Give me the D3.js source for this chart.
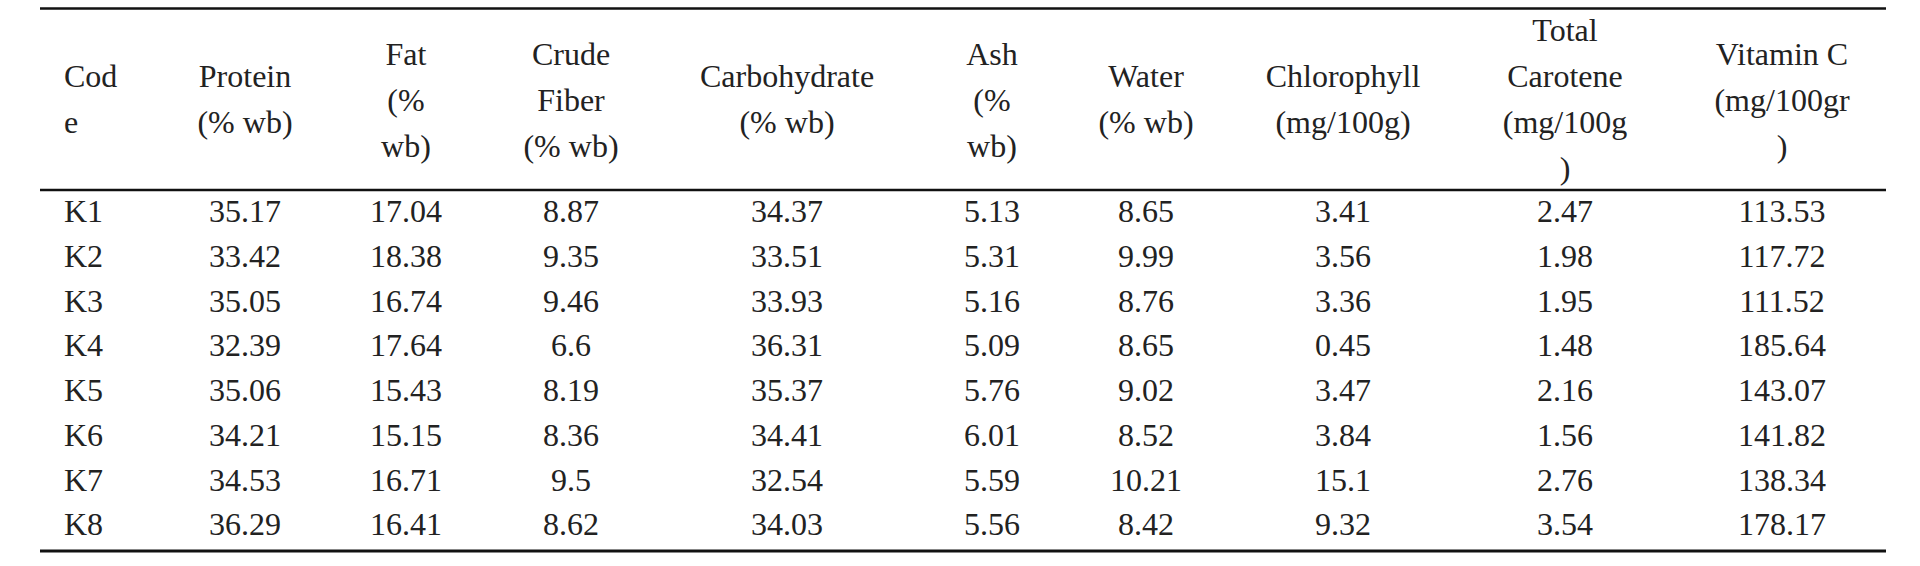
<!DOCTYPE html>
<html><head><meta charset="utf-8">
<script src="https://cdn.jsdelivr.net/npm/d3@7"></script>
<style>body{margin:0;background:#fff}</style>
</head><body><svg id="c" width="1920" height="566"></svg>
<script>
const codes = ["K1","K2","K3","K4","K5","K6","K7","K8"];
const headers = [
  ["Cod","e"],["Protein","(% wb)"],["Fat","(%","wb)"],["Crude","Fiber","(% wb)"],
  ["Carbohydrate","(% wb)"],["Ash","(%","wb)"],["Water","(% wb)"],["Chlorophyll","(mg/100g)"],
  ["Total","Carotene","(mg/100g",")"],["Vitamin C","(mg/100gr",")"]
];
const protein = ["35.17","33.42","35.05","32.39","35.06","34.21","34.53","36.29"];
const fat = ["17.04","18.38","16.74","17.64","15.43","15.15","16.71","16.41"];
const fiber = ["8.87","9.35","9.46","6.6","8.19","8.36","9.5","8.62"];
const carbohydrate = ["34.37","33.51","33.93","36.31","35.37","34.41","32.54","34.03"];
const ash = ["5.13","5.31","5.16","5.09","5.76","6.01","5.59","5.56"];
const water = ["8.65","9.99","8.76","8.65","9.02","8.52","10.21","8.42"];
const chlorophyll = ["3.41","3.56","3.36","0.45","3.47","3.84","15.1","9.32"];
const carotene = ["2.47","1.98","1.95","1.48","2.16","1.56","2.76","3.54"];
const vitaminC = ["113.53","117.72","111.52","185.64","143.07","141.82","138.34","178.17"];
const columns = [codes,protein,fat,fiber,carbohydrate,ash,water,chlorophyll,carotene,vitaminC];

const FONT = "'Liberation Serif', 'DejaVu Serif', serif";
const svg = d3.select("#c");
const colX = d3.scaleOrdinal().domain(d3.range(10)).range([64,245,406,571,787,992,1146,1343,1565,1782]);
const rowY = d3.scalePoint().domain(codes).range([215,528]);
const fs = 32, lh = 46;

[[8.5,2.5],[190,2.5],[551,3]].forEach(([y,w])=>svg.append("line").attr("x1",40).attr("x2",1886).attr("y1",y).attr("y2",y).attr("stroke","#111").attr("stroke-width",w));

headers.forEach((lines,i)=>{
  const n = lines.length;
  const startY = n===4 ? 34 : n===3 ? 58 : 80;
  const t = svg.append("text").attr("font-family",FONT).attr("fill","#222").attr("font-size",fs)
    .attr("text-anchor", i===0?"start":"middle").attr("dominant-baseline","middle");
  lines.forEach((l,j)=>t.append("tspan").attr("x",colX(i)).attr("y",startY+j*lh).text(l));
});

columns.forEach((col,i)=>{
  svg.selectAll(null).data(col).enter().append("text")
    .attr("font-family",FONT).attr("fill","#222")
    .attr("font-size",fs).attr("text-anchor", i===0?"start":"middle")
    .attr("dominant-baseline","middle")
    .attr("x",colX(i)).attr("y",(d,k)=>rowY(codes[k])).text(d=>d);
});
</script></body></html>
